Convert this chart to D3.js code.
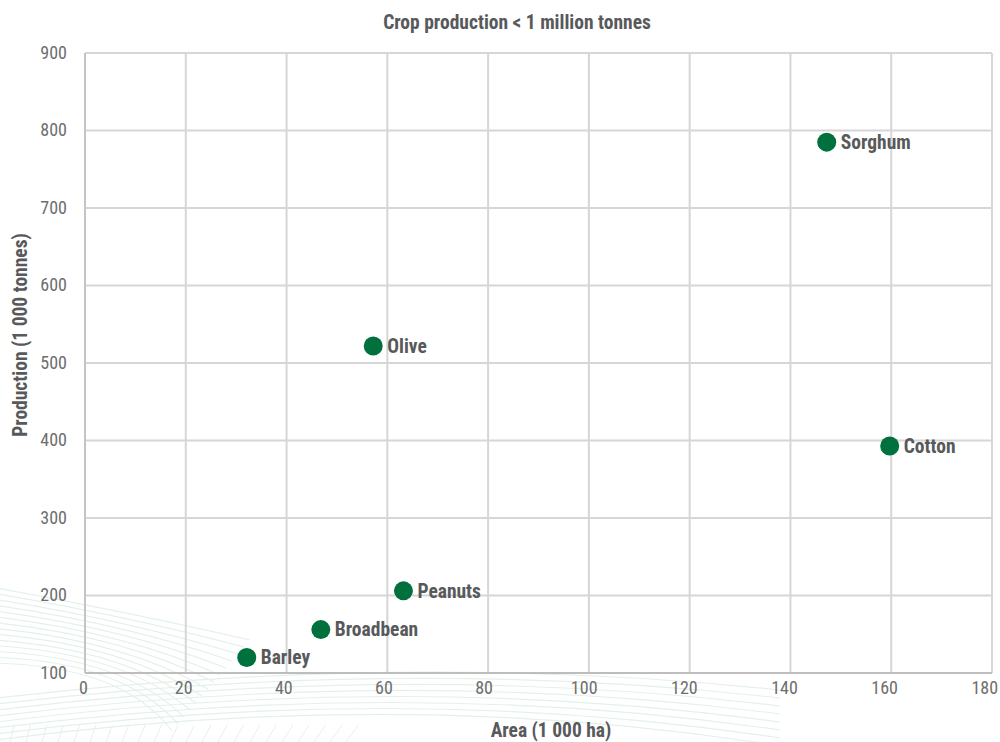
<!DOCTYPE html>
<html>
<head>
<meta charset="utf-8">
<script src="https://cdn.jsdelivr.net/npm/d3@7"></script>
<style>
  html, body { margin: 0; padding: 0; background: #ffffff; }
  svg { display: block; }
  .lbl { font-family: "Liberation Sans Narrow", "Roboto Condensed", "DejaVu Sans Condensed", "Open Sans", sans-serif; }
</style>
</head>
<body>
<svg id="chart" width="1000" height="742"></svg>
<script>
// Crop data: area (1 000 ha) vs production (1 000 tonnes)
const crops      = ["Barley", "Broadbean", "Peanuts", "Olive", "Sorghum", "Cotton"];
const areaValues = [32.1, 46.8, 63.2, 57.2, 147.2, 159.7];
const prodValues = [120, 156, 206, 522, 785, 393];
const xTicks = [0, 20, 40, 60, 80, 100, 120, 140, 160, 180];
const yTicks = [100, 200, 300, 400, 500, 600, 700, 800, 900];

const svg = d3.select("#chart");
const W = 1000, H = 742;
const margin = { left: 85, right: 8, top: 53, bottom: 69 };

const x = d3.scaleLinear().domain([0, 180]).range([margin.left, W - margin.right]);
const y = d3.scaleLinear().domain([100, 900]).range([H - margin.bottom, margin.top]);

// Faint decorative swoosh lines in the background
const deco = svg.append("g").attr("fill", "none").attr("stroke", "#e3f1ea").attr("stroke-width", 1.2);
for (let i = 0; i < 14; i++) {
  deco.append("path").attr("d",
    `M ${-20} ${585 + i * 6} Q ${120} ${610 + i * 4} ${250 - i * 6} ${640 + i * 7}`);
}
for (let i = 0; i < 8; i++) {
  deco.append("path").attr("d",
    `M ${-20} ${700 + i * 6} Q ${400} ${650 + i * 5} ${780} ${690 + i * 8}`);
}
const ticksG = svg.append("g").attr("stroke", "#e3f1ea").attr("stroke-width", 1);
for (let i = 0; i < 22; i++) {
  const bx = 10 + i * 16;
  ticksG.append("line").attr("x1", bx).attr("y1", 742).attr("x2", bx + 4 + i * 0.4).attr("y2", 725);
}

// Gridlines
const grid = svg.append("g").attr("stroke", "#d6d6d6").attr("stroke-width", 2);
grid.selectAll("line.v").data(xTicks).join("line")
  .attr("class", "v")
  .attr("x1", d => x(d)).attr("x2", d => x(d))
  .attr("y1", y(900)).attr("y2", y(100));
grid.selectAll("line.h").data(yTicks).join("line")
  .attr("class", "h")
  .attr("x1", x(0)).attr("x2", x(180))
  .attr("y1", d => y(d)).attr("y2", d => y(d));

// Axis baselines
svg.append("line").attr("x1", x(0)).attr("x2", x(180)).attr("y1", y(100)).attr("y2", y(100))
  .attr("stroke", "#bdbdbd").attr("stroke-width", 2);
svg.append("line").attr("x1", x(0)).attr("x2", x(0)).attr("y1", y(900)).attr("y2", y(100))
  .attr("stroke", "#c4c4c4").attr("stroke-width", 2);

// Axes (labels only)
const xAxis = svg.append("g")
  .attr("transform", `translate(0,${y(100)})`)
  .call(d3.axisBottom(x).tickValues(xTicks).tickSize(0).tickPadding(8).tickFormat(d3.format("d")));
xAxis.select(".domain").remove();
xAxis.selectAll("text")
  .attr("class", "lbl")
  .attr("dx", (d) => -2 - d * 0.032)
  .attr("font-size", 18).attr("fill", "#6e6e6e");

const yAxis = svg.append("g")
  .attr("transform", `translate(${x(0)},0)`)
  .call(d3.axisLeft(y).tickValues(yTicks).tickSize(0).tickPadding(18).tickFormat(d3.format("d")));
yAxis.select(".domain").remove();
yAxis.selectAll("text")
  .attr("class", "lbl")
  .attr("dy", "0.3em")
  .attr("font-size", 18).attr("fill", "#6e6e6e");

// Points
const pts = crops.map((c, i) => ({ name: c, area: areaValues[i], prod: prodValues[i] }));
svg.append("g").selectAll("circle").data(pts).join("circle")
  .attr("cx", d => x(d.area)).attr("cy", d => y(d.prod))
  .attr("r", 9.5).attr("fill", "#00703c");

svg.append("g").selectAll("text").data(pts).join("text")
  .attr("class", "lbl")
  .attr("x", d => x(d.area) + 14).attr("y", d => y(d.prod))
  .attr("dy", "0.35em")
  .attr("font-size", 19.5).attr("font-weight", "bold").attr("fill", "#58595b")
  .text(d => d.name);

// Title and axis titles
svg.append("text").attr("class", "lbl")
  .attr("x", 517).attr("y", 29).attr("text-anchor", "middle")
  .attr("font-size", 19.5).attr("font-weight", "bold").attr("fill", "#58595b")
  .text("Crop production < 1 million tonnes");

svg.append("text").attr("class", "lbl")
  .attr("x", 551).attr("y", 737).attr("text-anchor", "middle")
  .attr("font-size", 19.5).attr("font-weight", "bold").attr("fill", "#58595b")
  .text("Area (1 000 ha)");

svg.append("text").attr("class", "lbl")
  .attr("transform", "translate(27,335) rotate(-90)")
  .attr("text-anchor", "middle")
  .attr("font-size", 19.5).attr("font-weight", "bold").attr("fill", "#58595b")
  .text("Production (1 000 tonnes)");
</script>
</body>
</html>
